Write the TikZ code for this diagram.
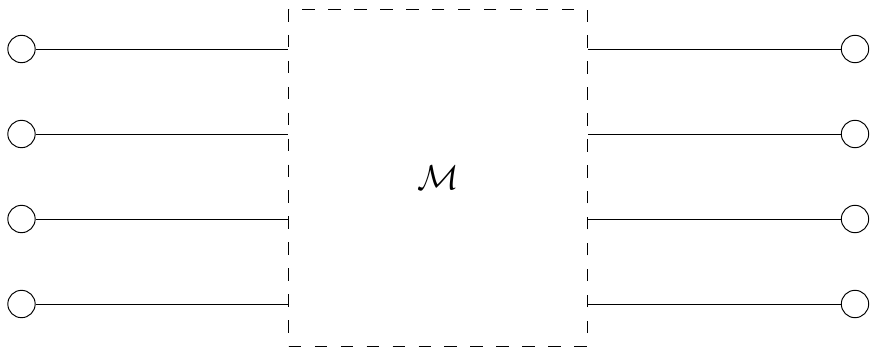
\documentclass[tikz,border=0pt]{standalone}
\begin{document}
\begin{tikzpicture}[x=0.41667pt,y=-0.41667pt,
  port/.style={draw, circle, inner sep=0pt, minimum size=11.4pt, line width=0.4pt},
  blackbox/.style={draw, dash pattern=on 5.2pt off 5.6pt, line width=0.4pt, minimum width=124.2pt, minimum height=140.4pt, inner sep=0pt, font=\Large},
  wire/.style={line width=0.4pt}]
\useasboundingbox (0,0) rectangle (870,348);
\node[blackbox] (box) at (438,177.5) {$\mathcal{M}$};
\foreach \i/\y in {1/49,2/134,3/219,4/304}{
  \node[port] (L\i) at (21.5,\y) {};
  \node[port] (R\i) at (855,\y) {};
  \draw[wire] (L\i) -- (L\i -| box.west);
  \draw[wire] (R\i) -- (R\i -| box.east);
}
\end{tikzpicture}
\end{document}
